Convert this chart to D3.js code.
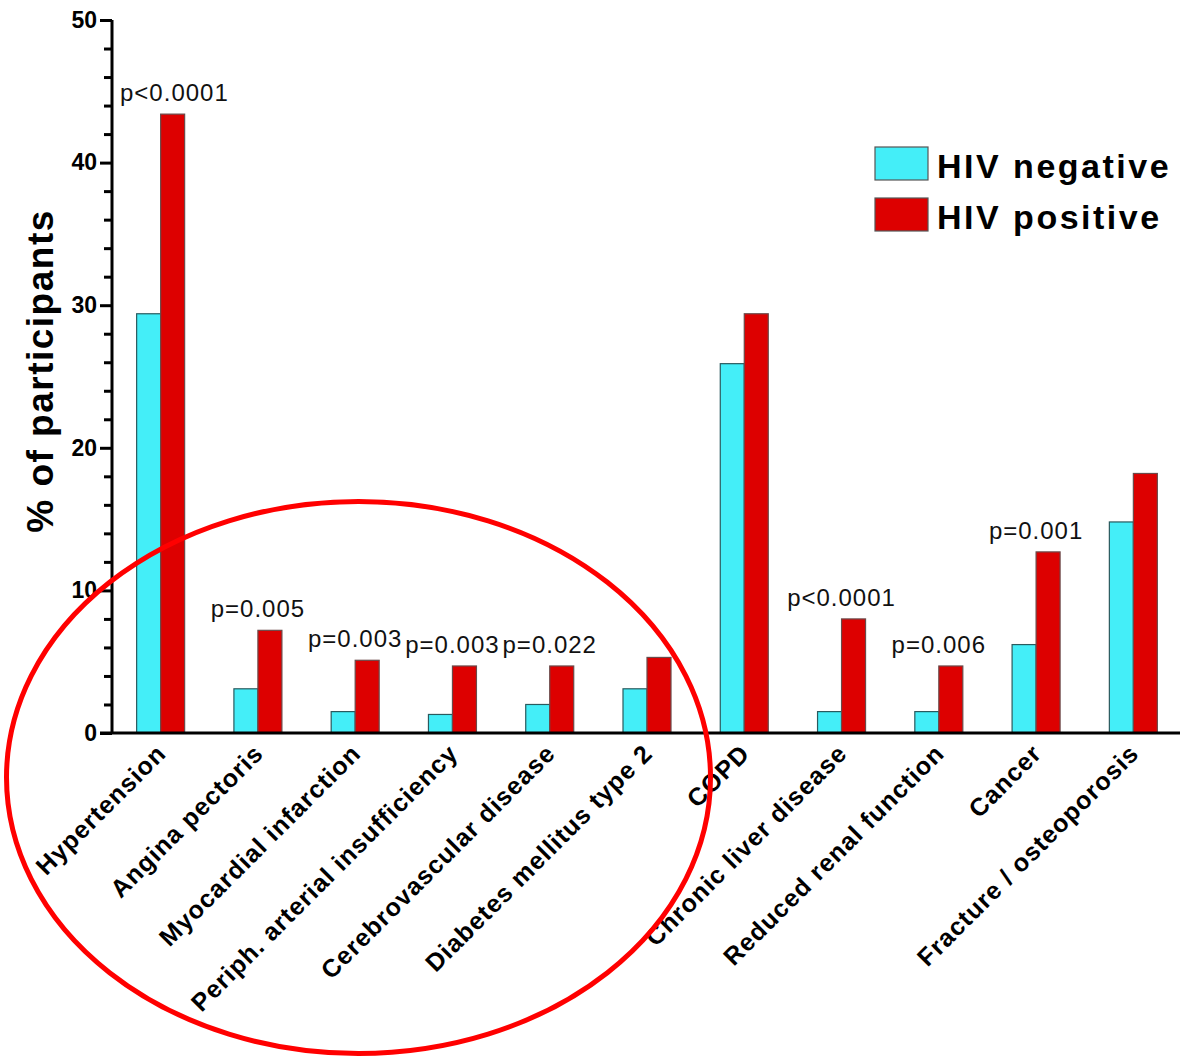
<!DOCTYPE html>
<html>
<head>
<meta charset="utf-8">
<script src="https://cdn.jsdelivr.net/npm/d3@7"></script>
<style>
  html, body { margin: 0; padding: 0; background: #fff; }
  svg { display: block; font-family: "Liberation Sans", Arial, sans-serif; }
</style>
</head>
<body>
<svg id="chart" width="1180" height="1058"></svg>
<script>
// Comorbidities by HIV status
const categories = [
  "Hypertension", "Angina pectoris", "Myocardial infarction",
  "Periph. arterial insufficiency", "Cerebrovascular disease",
  "Diabetes mellitus type 2", "COPD", "Chronic liver disease",
  "Reduced renal function", "Cancer", "Fracture / osteoporosis"
];
const hivNegative = [29.4, 3.1, 1.5, 1.3, 2.0, 3.1, 25.9, 1.5, 1.5, 6.2, 14.8];
const hivPositive = [43.4, 7.2, 5.1, 4.7, 4.7, 5.3, 29.4, 8.0, 4.7, 12.7, 18.2];
const pValues = ["p<0.0001", "p=0.005", "p=0.003", "p=0.003", "p=0.022", "", "", "p<0.0001", "p=0.006", "p=0.001", ""];
const seriesNames = ["HIV negative", "HIV positive"];
const seriesColors = ["#44eef8", "#dd0000"];
const yTicks = [0, 10, 20, 30, 40, 50];
const yMinorTicks = [2, 4, 6, 8, 12, 14, 16, 18, 22, 24, 26, 28, 32, 34, 36, 38, 42, 44, 46, 48];

const svg = d3.select("#chart");
const axisX = 112, baseY = 733, topY = 20;

const y = d3.scaleLinear().domain([0, 50]).range([baseY, topY]);
const x = d3.scaleBand().domain(categories).range([axisX, 1182]).padding(0);
const inner = d3.scaleBand().domain(seriesNames).range([-24, 24]).padding(0);

// Bars
const groups = svg.append("g").selectAll("g")
  .data(categories)
  .join("g")
  .attr("transform", d => `translate(${x(d) + x.bandwidth() / 2},0)`);

groups.each(function (cat, i) {
  const vals = [hivNegative[i], hivPositive[i]];
  d3.select(this).selectAll("rect")
    .data(vals)
    .join("rect")
    .attr("x", (v, j) => inner(seriesNames[j]))
    .attr("y", v => y(v))
    .attr("width", inner.bandwidth())
    .attr("height", v => y(0) - y(v))
    .attr("fill", (v, j) => seriesColors[j])
    .attr("stroke", (v, j) => j === 0 ? "#2a5a5e" : "#6a4a4a")
    .attr("stroke-width", 1.2);
});

// p-value annotations above the HIV-positive bars
const pLayer = svg.append("g");
categories.forEach((cat, i) => {
  if (!pValues[i]) return;
  const cx = x(cat) + x.bandwidth() / 2;
  const t = pLayer.append("text")
    .attr("y", y(hivPositive[i]) - 13)
    .attr("text-anchor", "middle")
    .attr("font-size", 24)
    .attr("letter-spacing", 1)
    .attr("fill", "#111")
    .text(pValues[i]);
  const w = t.node().getComputedTextLength();
  t.attr("x", Math.max(cx, axisX + 8 + w / 2));
});

// Y axis
const yAxis = d3.axisLeft(y).tickValues(yTicks).tickSize(12).tickPadding(3).tickFormat(d3.format("d"));
const yg = svg.append("g").attr("transform", `translate(${axisX},0)`).call(yAxis);
yg.select(".domain").attr("stroke", "#000").attr("stroke-width", 3).attr("d", `M0,${topY}V${baseY}`);
yg.selectAll(".tick line").attr("stroke", "#000").attr("stroke-width", 3);
yg.selectAll(".tick text").attr("font-size", 23).attr("font-weight", "bold").attr("fill", "#000")
  .attr("font-family", "Liberation Sans, Arial, sans-serif");

const yMinor = d3.axisLeft(y).tickValues(yMinorTicks).tickSize(8).tickFormat("");
const ym = svg.append("g").attr("transform", `translate(${axisX},0)`).call(yMinor);
ym.select(".domain").remove();
ym.selectAll(".tick line").attr("stroke", "#000").attr("stroke-width", 3);

// X axis
const xAxis = d3.axisBottom(x).tickSize(0).tickPadding(0);
const xg = svg.append("g").attr("transform", `translate(0,${baseY})`).call(xAxis);
xg.select(".domain").attr("stroke", "#000").attr("stroke-width", 3).attr("d", `M${axisX - 12},0H1180`);
xg.selectAll(".tick text")
  .attr("font-size", 25).attr("font-weight", "bold").attr("fill", "#000")
  .attr("letter-spacing", 1)
  .attr("font-family", "Liberation Sans, Arial, sans-serif")
  .attr("text-anchor", "end")
  .attr("dy", 0)
  .attr("transform", "translate(7,22) rotate(-45)");

// Y-axis title
svg.append("text")
  .attr("transform", `translate(53,${371}) rotate(-90)`)
  .attr("text-anchor", "middle")
  .attr("font-size", 37)
  .attr("letter-spacing", 1.5)
  .attr("font-weight", "bold")
  .text("% of participants");

// Legend
const legend = svg.append("g").attr("transform", "translate(875,147)");
seriesNames.forEach((name, i) => {
  legend.append("rect")
    .attr("x", 0).attr("y", i * 51)
    .attr("width", 53).attr("height", 33)
    .attr("fill", seriesColors[i])
    .attr("stroke", "#555").attr("stroke-width", 1.2);
  legend.append("text")
    .attr("x", 62).attr("y", i * 51 + 31)
    .attr("font-size", 34).attr("font-weight", "bold")
    .attr("letter-spacing", 2.5)
    .text(name);
});

// Highlight ring around the cardiovascular / metabolic group
svg.append("ellipse")
  .attr("cx", 358.5).attr("cy", 777.5)
  .attr("rx", 352).attr("ry", 276)
  .attr("fill", "none")
  .attr("stroke", "#ff0000")
  .attr("stroke-width", 5);
</script>
</body>
</html>
